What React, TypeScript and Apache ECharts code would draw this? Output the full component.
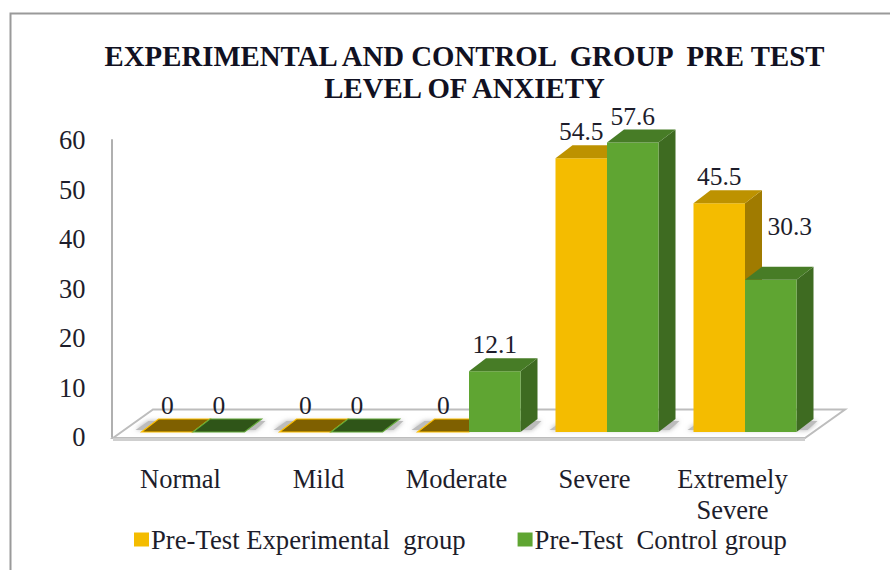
import React, { useEffect, useRef } from "react";
import * as echarts from "echarts";

const categories = ["Normal", "Mild", "Moderate", "Severe", "Extremely\nSevere"];
const experimental = [0, 0, 0, 54.5, 45.5];
const control = [0, 0, 12.1, 57.6, 30.3];
const yTicks = [0, 10, 20, 30, 40, 50, 60];
const seriesNames = ["Pre-Test Experimental  group", "Pre-Test  Control group"];

const FONT = '"Liberation Serif", "Times New Roman", serif';
const TEXT = "#1d1d2b";
const BAR_W = 51.5;
const DX = 17;
const DY = 13;

const yellow = { front: "#F4BC00", top: "#BD9200", side: "#A07B00", flat: "#7F6000", edge: "#FFC000" };
const green = { front: "#5FA532", top: "#477C26", side: "#3E6B21", flat: "#2F5518", edge: "#62A838" };

function barRenderer(colors: typeof yellow, dir: number, raisedLabel: number) {
  return (params: any, api: any) => {
    const idx = api.value(0);
    const val = api.value(1);
    const [cx, yTop] = api.coord([idx, val]);
    const [, yBase] = api.coord([idx, 0]);
    const xc = cx + (dir * BAR_W) / 2;
    const x0 = xc - BAR_W / 2;
    const x1 = xc + BAR_W / 2;
    const children: any[] = [];
    if (val > 0) {
      children.push({
        type: "polygon",
        shape: { points: [[x1, yTop], [x1 + DX, yTop - DY], [x1 + DX, yBase - DY], [x1, yBase]] },
        style: { fill: colors.side },
      });
      children.push({
        type: "rect",
        shape: { x: x0, y: yTop, width: BAR_W, height: yBase - yTop },
        style: { fill: colors.front },
      });
    }
    children.push({
      type: "polygon",
      shape: { points: [[x0, yTop], [x0 + DX, yTop - DY], [x1 + DX, yTop - DY], [x1, yTop]] },
      style:
        val > 0
          ? { fill: colors.top }
          : { fill: colors.flat, stroke: colors.edge, lineWidth: 1.2 },
    });
    const moved = idx === raisedLabel;
    children.push({
      type: "text",
      x: moved ? xc + 19 : xc,
      y: moved ? yTop - 53 : yTop - 26.5,
      style: {
        text: String(val),
        fill: TEXT,
        font: `25.5px ${FONT}`,
        align: "center",
        verticalAlign: "middle",
      },
    });
    return { type: "group", children };
  };
}

function shadowRenderer(params: any, api: any) {
  const idx = api.value(0);
  const [cx, y] = api.coord([idx, 0]);
  const x0 = cx - BAR_W - 3;
  const x1 = cx + BAR_W + 3;
  return {
    type: "polygon",
    shape: { points: [[x0 - 3, y - 2], [x0 + 10, y - 11], [x1 + 18, y - 11], [x1 + 8, y - 2]] },
    style: { fill: "#bcbcbc", shadowBlur: 5, shadowColor: "#b0b0b0" },
    silent: true,
  };
}

export default function App() {
  const ref = useRef<HTMLDivElement>(null);
  useEffect(() => {
    const chart = echarts.init(ref.current!, undefined, { renderer: "svg" });
    chart.setOption({
      animation: false,
      backgroundColor: "#ffffff",
      title: {
        text: "EXPERIMENTAL AND CONTROL  GROUP  PRE TEST\nLEVEL OF ANXIETY",
        left: 459.5,
        top: 35,
        textAlign: "center",
        textStyle: { fontFamily: FONT, fontSize: 28.8, fontWeight: "bold", color: "#111122", lineHeight: 32 },
      },
      legend: {
        data: seriesNames,
        left: 129,
        top: 521,
        icon: "rect",
        itemWidth: 15,
        itemHeight: 14,
        itemGap: 52,
        textStyle: { fontFamily: FONT, fontSize: 26.7, color: TEXT, padding: [0, 0, 4, -3] },
      },
      grid: [
        { left: 111.5, width: 690, top: 140, height: 297 },
        { left: 124, width: 690, top: 130.5, height: 301.5 },
      ],
      xAxis: [
        {
          type: "category",
          gridIndex: 0,
          data: categories,
          axisLine: { show: false },
          axisTick: { show: false },
          axisLabel: {
            margin: 26,
            fontFamily: FONT,
            fontSize: 26.5,
            color: TEXT,
            lineHeight: 31,
            interval: 0,
          },
        },
        {
          type: "category",
          gridIndex: 1,
          data: categories,
          axisLine: { show: false },
          axisTick: { show: false },
          axisLabel: { show: false },
        },
      ],
      yAxis: [
        {
          type: "value",
          gridIndex: 0,
          min: 0,
          max: 60,
          interval: 10,
          splitLine: { show: false },
          axisTick: { show: false },
          axisLine: { show: true, lineStyle: { color: "#b0b0b0", width: 2 } },
          axisLabel: {
            margin: 26,
            fontFamily: FONT,
            fontSize: 26.5,
            color: TEXT,
            formatter: (v: number) => (yTicks.includes(v) ? String(v) : ""),
          },
        },
        {
          type: "value",
          gridIndex: 1,
          min: 0,
          max: 60,
          interval: 10,
          show: false,
          splitLine: { show: false },
        },
      ],
      graphic: [
        {
          type: "polyline",
          shape: { points: [[10.5, 570], [10.5, 13.5], [890, 13.5]] },
          style: { fill: "none", stroke: "#9a9a9a", lineWidth: 2 },
          z: 0,
        },
        {
          type: "polygon",
          shape: { points: [[113, 438], [153, 409.5], [845, 409.5], [805, 438]] },
          style: { fill: "#ffffff", stroke: "#bdbdbd", lineWidth: 2 },
          z: 0,
        },
        {
          type: "polygon",
          shape: { points: [[113, 438], [805, 438], [805, 441], [113, 441]] },
          style: { fill: "#cfcfcf" },
          z: 0,
        },
      ],
      series: [
        {
          type: "custom",
          name: "floor shadow",
          xAxisIndex: 1,
          yAxisIndex: 1,
          clip: false,
          silent: true,
          renderItem: shadowRenderer,
          encode: { x: 0, y: 1 },
          data: categories.map((_, i) => [i, 0]),
          z: 1,
        },
        {
          type: "custom",
          name: seriesNames[0],
          xAxisIndex: 1,
          yAxisIndex: 1,
          clip: false,
          renderItem: barRenderer(yellow, -1, -1),
          encode: { x: 0, y: 1 },
          itemStyle: { color: yellow.front },
          data: experimental.map((v, i) => [i, v]),
          z: 2,
        },
        {
          type: "custom",
          name: seriesNames[1],
          xAxisIndex: 1,
          yAxisIndex: 1,
          clip: false,
          renderItem: barRenderer(green, 1, 4),
          encode: { x: 0, y: 1 },
          itemStyle: { color: green.front },
          data: control.map((v, i) => [i, v]),
          z: 3,
        },
      ],
    });
    return () => chart.dispose();
  }, []);
  return (
    <div
      ref={ref}
      style={{ position: "fixed", left: 0, top: 0, width: 890, height: 570 }}
    />
  );
}
